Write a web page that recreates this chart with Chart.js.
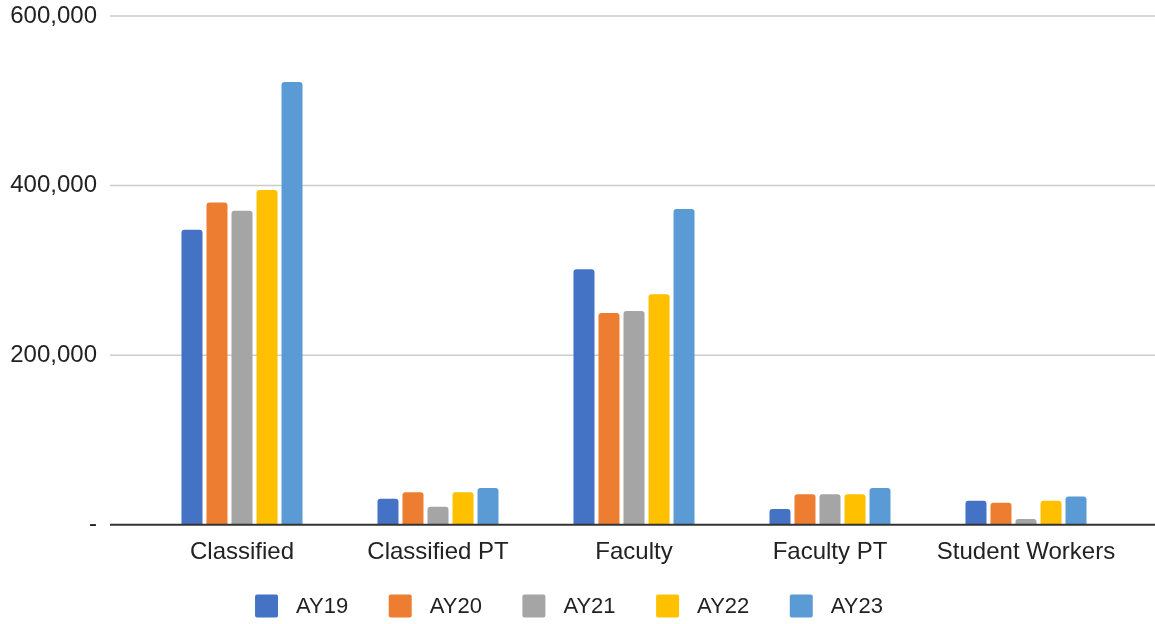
<!DOCTYPE html>
<html>
<head>
<meta charset="utf-8">
<script src="https://cdn.jsdelivr.net/npm/chart.js@4.4.1/dist/chart.umd.min.js"></script>
<style>
  html, body { margin: 0; padding: 0; background: #ffffff; }
  #wrap { width: 1155px; height: 624px; position: relative; }
</style>
</head>
<body>
<div id="wrap"><canvas id="chart"></canvas></div>
<script>
// Staff categories and yearly totals per academic year
const categories = ['Classified', 'Classified PT', 'Faculty', 'Faculty PT', 'Student Workers'];
const seriesNames = ['AY19', 'AY20', 'AY21', 'AY22', 'AY23'];
const ay19 = [347800, 30700, 301400, 18500, 28300];
const ay20 = [380000, 38200, 249800, 35800, 26000];
const ay21 = [370200, 21200, 252100, 35800, 6700];
const ay22 = [394700, 38200, 271900, 35800, 28300];
const ay23 = [522200, 43300, 372300, 43300, 33400];
const yTickValues = [0, 200000, 400000, 600000];

const seriesValues = [ay19, ay20, ay21, ay22, ay23];
const seriesColors = ['#4472C4', '#ED7D31', '#A5A5A5', '#FFC000', '#5B9BD5'];
const FONT = "'Liberation Sans', Arial, sans-serif";

// Horizontal grid lines running past the plot edges, plus a dark zero line
const wideGrid = {
  id: 'wideGrid',
  beforeDatasetsDraw(chart, args, opts) {
    const { ctx } = chart;
    const y = chart.scales.y;
    ctx.save();
    ctx.strokeStyle = '#cccccc';
    ctx.lineWidth = 1.5;
    y.ticks.forEach(t => {
      if (t.value === 0) return;
      const py = y.getPixelForValue(t.value);
      ctx.beginPath();
      ctx.moveTo(opts.left, py);
      ctx.lineTo(chart.width, py);
      ctx.stroke();
    });
    ctx.restore();
  },
  afterDatasetsDraw(chart, args, opts) {
    const { ctx } = chart;
    const py = chart.scales.y.getPixelForValue(0);
    ctx.save();
    ctx.strokeStyle = '#333333';
    ctx.lineWidth = 2;
    ctx.beginPath();
    ctx.moveTo(opts.left, py);
    ctx.lineTo(chart.width, py);
    ctx.stroke();
    ctx.restore();
  }
};

// Series key drawn as one centred row under the axis labels
const seriesKey = {
  id: 'seriesKey',
  afterDraw(chart, args, opts) {
    const { ctx } = chart;
    ctx.save();
    ctx.font = opts.fontSize + 'px ' + FONT;
    ctx.textBaseline = 'middle';
    ctx.textAlign = 'left';
    const items = chart.data.datasets.map(ds => ({
      label: ds.label,
      color: ds.backgroundColor,
      w: ctx.measureText(ds.label).width
    }));
    const total = items.reduce((s, it) => s + opts.box + opts.gap + it.w, 0) + opts.spacing * (items.length - 1);
    let x = opts.centerX - total / 2;
    const cy = opts.centerY;
    items.forEach(it => {
      ctx.fillStyle = it.color;
      ctx.beginPath();
      ctx.roundRect(x, cy - opts.box / 2, opts.box, opts.box, 2);
      ctx.fill();
      x += opts.box + opts.gap;
      ctx.fillStyle = '#222222';
      ctx.fillText(it.label, x, cy + 1);
      x += it.w + opts.spacing;
    });
    ctx.restore();
  }
};

new Chart(document.getElementById('chart'), {
  type: 'bar',
  data: {
    labels: categories,
    datasets: seriesNames.map((name, i) => ({
      label: name,
      data: seriesValues[i],
      backgroundColor: seriesColors[i],
      borderWidth: 0,
      borderRadius: { topLeft: 3, topRight: 3, bottomLeft: 0, bottomRight: 0 },
      borderSkipped: 'bottom',
      categoryPercentage: 0.638,
      barPercentage: 0.84
    }))
  },
  options: {
    responsive: true,
    maintainAspectRatio: false,
    animation: false,
    layout: { padding: { top: 16, right: 31, left: 0, bottom: 44.5 } },
    plugins: {
      legend: { display: false },
      tooltip: { enabled: false },
      wideGrid: { left: 110 },
      seriesKey: { fontSize: 22, box: 23, gap: 18, spacing: 40.5, centerX: 569, centerY: 606 }
    },
    scales: {
      x: {
        grid: { display: false, drawTicks: false },
        border: { display: false },
        ticks: {
          color: '#222222',
          padding: 13,
          font: { family: FONT, size: 24 },
          maxRotation: 0,
          autoSkip: false
        }
      },
      y: {
        min: 0,
        max: 600000,
        afterBuildTicks(scale) { scale.ticks = yTickValues.map(v => ({ value: v })); },
        grid: { display: false, drawTicks: false },
        border: { display: false },
        ticks: {
          color: '#222222',
          padding: 47,
          font: { family: FONT, size: 24 },
          callback: v => v === 0 ? '-' : Number(v).toLocaleString('en-US')
        },
        afterFit(scale) {
          scale.width = 144;
          scale.paddingTop = 14;
          scale.paddingBottom = 14;
        }
      }
    }
  },
  plugins: [wideGrid, seriesKey]
});
</script>
</body>
</html>
